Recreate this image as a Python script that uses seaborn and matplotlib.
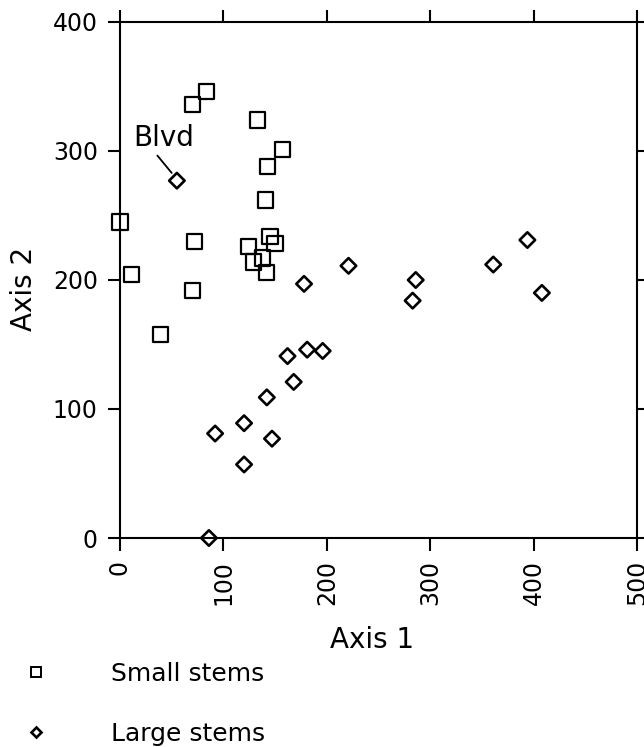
import matplotlib
matplotlib.use("Agg")
import matplotlib.pyplot as plt
import seaborn as sns
import pandas as pd
from matplotlib.lines import Line2D

# small stems (squares)
small_x = [0, 11, 39, 70, 72, 70, 84, 133, 143, 157, 141, 145, 124, 129, 138, 150, 142]
small_y = [245, 204, 158, 192, 230, 336, 346, 324, 288, 301, 262, 234, 226, 214, 217, 228, 206]

# large stems (diamonds)
large_x = [55, 178, 221, 286, 283, 361, 394, 408, 162, 181, 196, 168, 142, 120, 92, 147, 120, 86]
large_y = [277, 197, 211, 200, 184, 212, 231, 190, 141, 146, 145, 121, 109, 89, 81, 77, 57, 0]

x_ticks = [0, 100, 200, 300, 400, 500]
y_ticks = [0, 100, 200, 300, 400]

sns.set_style("ticks")
plt.rcParams['font.family'] = ['DejaVu Sans']
plt.rcParams['text.color'] = 'black'
plt.rcParams['axes.labelcolor'] = 'black'
plt.rcParams['xtick.color'] = 'black'
plt.rcParams['ytick.color'] = 'black'

df_small = pd.DataFrame({"axis1": small_x, "axis2": small_y})
df_large = pd.DataFrame({"axis1": large_x, "axis2": large_y})

fig = plt.figure(figsize=(6.44, 7.47), dpi=100)
ax = fig.add_axes([120 / 644, 209 / 747, 517 / 644, 516 / 747])

sns.scatterplot(data=df_small, x="axis1", y="axis2", marker="s", s=120,
                color="black", facecolor="none", edgecolor="black", linewidth=1.6,
                clip_on=False, zorder=3, ax=ax)
sns.scatterplot(data=df_large, x="axis1", y="axis2", marker="D", s=62,
                color="black", facecolor="none", edgecolor="black", linewidth=1.9,
                clip_on=False, zorder=3, ax=ax)

ax.set_xlim(0, 500)
ax.set_ylim(0, 400)
ax.set_xticks(x_ticks)
ax.set_yticks(y_ticks)
ax.set_xticklabels([str(t) for t in x_ticks], rotation=90)
ax.tick_params(direction="out", length=9, width=1.5, top=True, right=True,
               labelsize=17, pad=7, color="black", labelcolor="black")
for sp in ax.spines.values():
    sp.set_linewidth(1.5)
    sp.set_color("black")

ax.set_xlabel("Axis 1", fontsize=20, color="black")
ax.set_ylabel("Axis 2", fontsize=20, color="black")
ax.xaxis.set_label_coords(0.487, -0.171)
ax.yaxis.set_label_coords(-0.158, 0.483)

# Blvd label
ax.annotate("Blvd", xy=(50, 283), xytext=(13, 299), textcoords="data",
            fontsize=20, ha="left", va="bottom", color="black",
            arrowprops=dict(arrowstyle="-", lw=1.3, color="black",
                            shrinkA=0, shrinkB=0, relpos=(0.33, 0.05)))

handles = [
    Line2D([], [], marker="s", ms=7.5, mfc="none", mec="black", mew=1.4, ls=""),
    Line2D([], [], marker="D", ms=5.5, mfc="none", mec="black", mew=1.9, ls=""),
]
leg = fig.legend(handles, ["Small stems", "Large stems"], loc="upper left",
                 bbox_to_anchor=(0.037, 0.114), frameon=False, fontsize=18,
                 handlelength=1.0, handletextpad=2.5, borderpad=0, borderaxespad=0,
                 labelspacing=1.43)
for t in leg.get_texts():
    t.set_color("black")

fig.savefig("out.png", dpi=100)
